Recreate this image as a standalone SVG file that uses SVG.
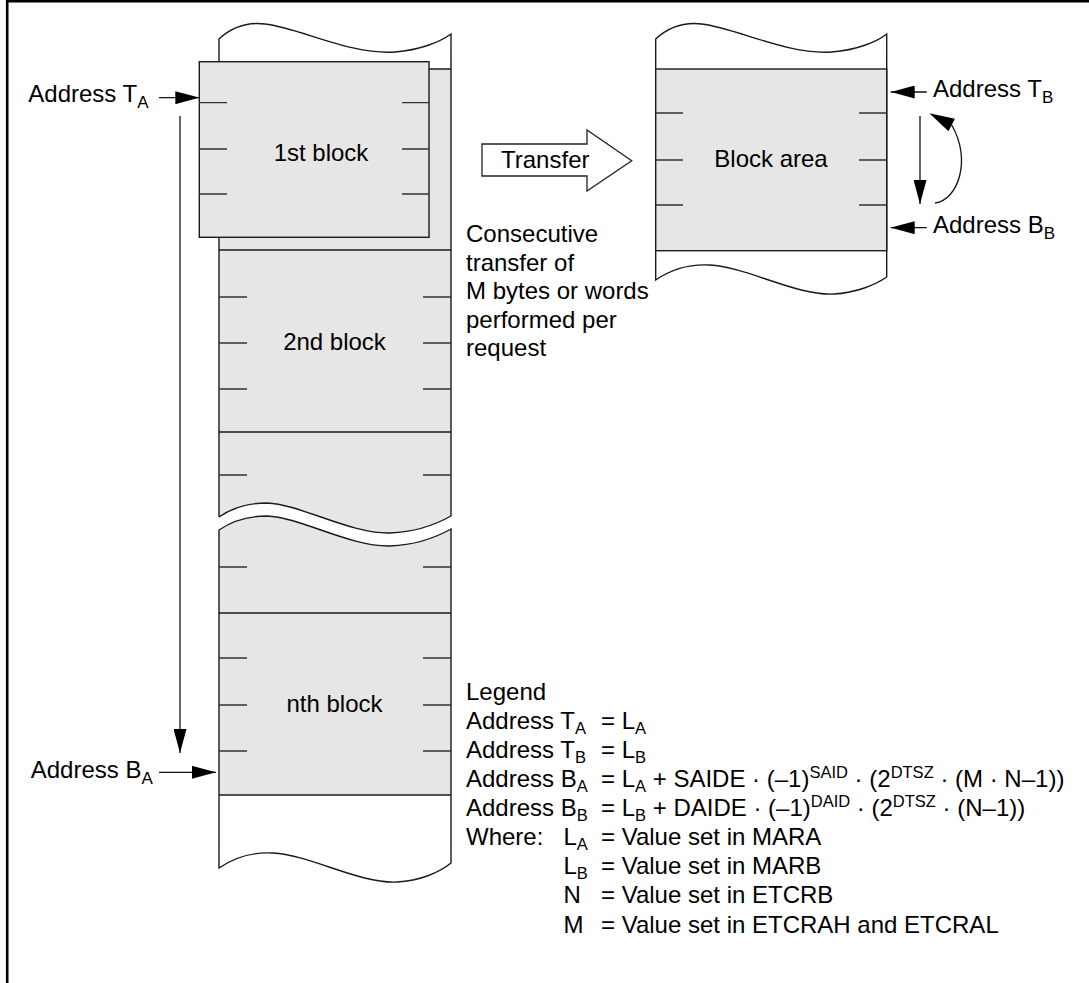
<svg xmlns="http://www.w3.org/2000/svg" width="1089" height="983" viewBox="0 0 1089 983">
<style>
text{font-family:"Liberation Sans",Arial,Helvetica,sans-serif;font-size:24px;fill:#000}
.s{font-size:17px}
.ls{font-size:16.5px}
.m{text-anchor:middle}
.g{fill:#e6e6e6;stroke:none}
.w{fill:#fff;stroke:none}
.ol{fill:none;stroke:#1a1a1a;stroke-width:1.4}
.tk{fill:none;stroke:#333;stroke-width:1.3}
.cn{fill:none;stroke:#111;stroke-width:1.3}
</style>
<defs>
<marker id="ah" markerUnits="userSpaceOnUse" markerWidth="24" markerHeight="13" refX="24" refY="6.5" orient="auto"><path d="M0,0 L24,6.5 L0,13 Z" fill="#000"/></marker>
</defs>
<path d="M7.2,983 V1.3 H1089" fill="none" stroke="#000" stroke-width="2.6"/>

<g id="column-a-upper">
<path class="g" d="M219,517 V39 C232,27 248,22 265,24 C300,28 350,55 395,52 C420,50 440,42 451,34 V516 C435,525 415,532 390,533 C350,534 300,504 267,503 C250,503 232,508 219,517 Z"/>
<path class="w" d="M219,69 V39 C232,27 248,22 265,24 C300,28 350,55 395,52 C420,50 440,42 451,34 V69 Z"/>
<path class="ol" d="M219,517 V39 C232,27 248,22 265,24 C300,28 350,55 395,52 C420,50 440,42 451,34 V516 C435,525 415,532 390,533 C350,534 300,504 267,503 C250,503 232,508 219,517"/>
<path class="ol" d="M219,69 H451 M219,250 H451 M219,432 H451"/>
</g>
<g id="block-2nd">
<path class="tk" d="M219,297 H247 M423,297 H451 M219,343 H247 M423,343 H451 M219,389 H247 M423,389 H451 M219,475 H247 M423,475 H451"/>
<text class="m" x="334.5" y="350">2nd block</text>
</g>
<g id="column-a-lower">
<path class="g" d="M219,530 C232,521 250,516 267,516 C300,517 350,547 390,546 C415,545 435,538 451,529 V863 C440,872 420,881 397,882 C360,884 310,855 273,853 C255,852 235,857 219,868 Z"/>
<path class="w" d="M219,795 H451 V863 C440,872 420,881 397,882 C360,884 310,855 273,853 C255,852 235,857 219,868 Z"/>
<path class="ol" d="M219,530 C232,521 250,516 267,516 C300,517 350,547 390,546 C415,545 435,538 451,529 V863 C440,872 420,881 397,882 C360,884 310,855 273,853 C255,852 235,857 219,868 Z"/>
<path class="ol" d="M219,613 H451 M219,795 H451"/>
<path class="tk" d="M219,567 H247 M423,567 H451"/>
</g>
<g id="block-nth">
<path class="tk" d="M219,658 H247 M423,658 H451 M219,705 H247 M423,705 H451 M219,751 H247 M423,751 H451"/>
<text class="m" x="334.5" y="711.7">nth block</text>
</g>
<g id="block-1st">
<rect x="199.3" y="61.7" width="229.7" height="175.6" fill="#e6e6e6" stroke="#1a1a1a" stroke-width="1.4"/>
<path class="tk" d="M199.3,102.7 H227 M402,102.7 H429 M199.3,149 H227 M402,149 H429 M199.3,194 H227 M402,194 H429"/>
<text class="m" x="321" y="160.7">1st block</text>
</g>
<g id="block-area">
<path fill="#fff" stroke="#1a1a1a" stroke-width="1.4" d="M655.7,39 C668.7,27 684.7,22 701.7,24 C736.7,28 786.7,55 831.7,52 C856.7,50 876.7,42 886.7,34 V277 C876.7,284 856.7,293 833.7,294 C796.7,296 746.7,267 709.7,265 C691.7,264 671.7,269 655.7,280 Z"/>
<rect x="655.7" y="69" width="231" height="181.7" fill="#e6e6e6" stroke="#1a1a1a" stroke-width="1.4"/>
<path class="tk" d="M655.7,113 H683 M859,113 H886.7 M655.7,160 H683 M859,160 H886.7 M655.7,205 H683 M859,205 H886.7"/>
<text class="m" x="771" y="167">Block area</text>
</g>
<g id="transfer">
<polygon points="482,144 587,144 587,130 631.7,160.7 587,191 587,176 482,176" fill="#fff" stroke="#222" stroke-width="1.3"/>
<text x="501" y="168">Transfer</text>
</g>
<g id="connectors">
<line class="cn" x1="159" y1="97.7" x2="199.3" y2="97.7" marker-end="url(#ah)"/>
<line class="cn" x1="180" y1="116" x2="180" y2="753" marker-end="url(#ah)"/>
<line class="cn" x1="159" y1="772.3" x2="216" y2="772.3" marker-end="url(#ah)"/>
<line class="cn" x1="926.7" y1="92" x2="890.7" y2="92" marker-end="url(#ah)"/>
<line class="cn" x1="926.7" y1="227.7" x2="890.7" y2="227.7" marker-end="url(#ah)"/>
<line class="cn" x1="920" y1="116" x2="920" y2="204" marker-end="url(#ah)"/>
<path class="cn" d="M935,203 C958,200 972,160 951.7,125"/>
<polygon points="929.3,113.3 954.9,118.8 948.5,131.2" fill="#000"/>
</g>
<g id="labels">
<text x="28.3" y="101.7">Address T<tspan class="s" dy="6">A</tspan></text>
<text x="30.7" y="778">Address B<tspan class="s" dy="6">A</tspan></text>
<text x="933" y="97">Address T<tspan class="s" dy="6">B</tspan></text>
<text x="933" y="233">Address B<tspan class="s" dy="6">B</tspan></text>
<text x="466" y="242">Consecutive</text>
<text x="466" y="270.5">transfer of</text>
<text x="466" y="299">M bytes or words</text>
<text x="466" y="327.5">performed per</text>
<text x="466" y="356">request</text>
</g>
<g id="legend">
<text x="466" y="700">Legend</text>
<text y="729"><tspan x="466">Address T</tspan><tspan class="ls" dy="5">A</tspan><tspan x="601" dy="-5">= L</tspan><tspan class="ls" dy="5">A</tspan></text>
<text y="758"><tspan x="466">Address T</tspan><tspan class="ls" dy="5">B</tspan><tspan x="601" dy="-5">= L</tspan><tspan class="ls" dy="5">B</tspan></text>
<text y="787"><tspan x="466">Address B</tspan><tspan class="ls" dy="5">A</tspan><tspan x="601" dy="-5">= L</tspan><tspan class="ls" dy="5">A</tspan><tspan dy="-5"> + SAIDE · (–1)</tspan><tspan class="ls" dy="-9">SAID</tspan><tspan dy="9"> · (2</tspan><tspan class="ls" dy="-9">DTSZ</tspan><tspan dy="9"> · (M · N–1))</tspan></text>
<text y="816"><tspan x="466">Address B</tspan><tspan class="ls" dy="5">B</tspan><tspan x="601" dy="-5">= L</tspan><tspan class="ls" dy="5">B</tspan><tspan dy="-5"> + DAIDE · (–1)</tspan><tspan class="ls" dy="-9">DAID</tspan><tspan dy="9"> · (2</tspan><tspan class="ls" dy="-9">DTSZ</tspan><tspan dy="9"> · (N–1))</tspan></text>
<text x="466" y="845">Where:</text>
<text x="563.5" y="845">L<tspan class="ls" dy="5">A</tspan></text>
<text x="601" y="845">= Value set in MARA</text>
<text x="563.5" y="874">L<tspan class="ls" dy="5">B</tspan></text>
<text x="601" y="874">= Value set in MARB</text>
<text x="563.5" y="903">N</text>
<text x="601" y="903">= Value set in ETCRB</text>
<text x="563.5" y="932.7">M</text>
<text x="601" y="932.7">= Value set in ETCRAH and ETCRAL</text>
</g>
</svg>
